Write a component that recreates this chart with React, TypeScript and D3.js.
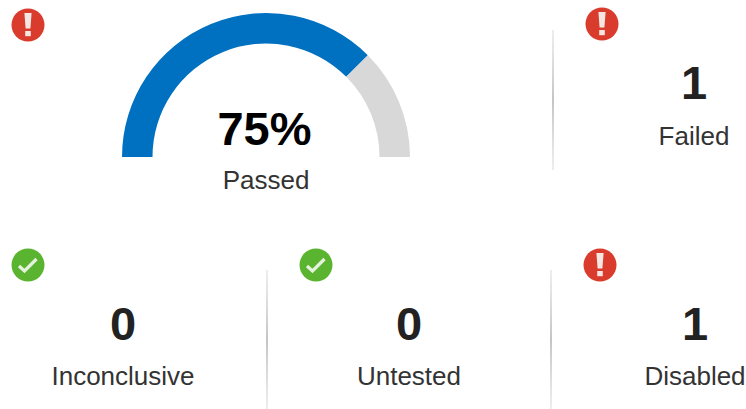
import React from "react";
import * as d3 from "d3";

const passedPercent = 75;
const gaugeColors = ["#0070c0", "#d8d8d8"];
const tileLabels = ["Failed", "Inconclusive", "Untested", "Disabled"];
const tileValues = [1, 0, 0, 1];
const tileX = [694, 123, 409, 695];
const tileNumberY = [99, 340, 340, 340];
const tileLabelY = [145, 385, 385, 385];
const iconKinds = ["error", "error", "ok", "ok", "error"];
const iconX = [28, 602, 28, 316, 600];
const iconY = [25, 24, 265, 265, 265];
const dividerX = [553, 267, 551];
const dividerY = [[30, 170], [270, 409], [270, 409]];

const FONT = '"Liberation Sans", Arial, sans-serif';

function Icon({ kind, x, y }: { kind: string; x: number; y: number }) {
  if (kind === "error") {
    return (
      <g transform={`translate(${x},${y})`}>
        <circle r={16.5} fill="#d93c2c" />
        <path d="M-3.6,-12 L3.6,-12 L2.4,3.5 L-2.4,3.5 Z" fill="#f4e6e2" />
        <rect x={-2.8} y={6} width={5.6} height={5.2} fill="#f4e6e2" />
      </g>
    );
  }
  return (
    <g transform={`translate(${x},${y})`}>
      <circle r={16.5} fill="#5ab42f" />
      <path d="M-9,1 L-3.5,6 L8.5,-6" fill="none" stroke="#e4f2dc" strokeWidth={3.2} />
    </g>
  );
}

export default function App() {
  const cx = 266;
  const cy = 157;
  const angle = d3.scaleLinear().domain([0, 100]).range([-Math.PI / 2, Math.PI / 2]);
  const arc = d3.arc<{ a: number; b: number }>()
    .innerRadius(113.5)
    .outerRadius(144)
    .startAngle((d) => d.a)
    .endAngle((d) => d.b);
  const segments = [
    { a: angle(0), b: angle(passedPercent) },
    { a: angle(passedPercent), b: angle(100) },
  ];
  return (
    <svg
      width={746}
      height={409}
      style={{ position: "absolute", left: 0, top: 0, background: "#fff" }}
      fontFamily={FONT}
    >
      <defs>
        <linearGradient id="div" x1="0" y1="0" x2="0" y2="1">
          <stop offset="0" stopColor="#d4d4d4" stopOpacity={0.4} />
          <stop offset="0.5" stopColor="#c4c4c4" />
          <stop offset="1" stopColor="#d4d4d4" stopOpacity={0.4} />
        </linearGradient>
      </defs>
      {segments.map((s, i) => (
        <path key={i} transform={`translate(${cx},${cy})`} d={arc(s) as string} fill={gaugeColors[i]} />
      ))}
      <text x={cx - 1.5} y={145} textAnchor="middle" fontSize={47} fontWeight={700} fill="#000">
        {passedPercent}%
      </text>
      <text x={cx} y={189} textAnchor="middle" fontSize={26} fill="#333">
        Passed
      </text>
      {tileLabels.map((l, i) => (
        <g key={l}>
          <text x={tileX[i]} y={tileNumberY[i]} textAnchor="middle" fontSize={47} fontWeight={700} fill="#222">
            {tileValues[i]}
          </text>
          <text x={tileX[i]} y={tileLabelY[i]} textAnchor="middle" fontSize={26} fill="#333">
            {l}
          </text>
        </g>
      ))}
      {dividerX.map((x, i) => (
        <rect key={i} x={x - 1} y={dividerY[i][0]} width={2} height={dividerY[i][1] - dividerY[i][0]} fill="url(#div)" />
      ))}
      {iconKinds.map((k, i) => (
        <Icon key={i} kind={k} x={iconX[i]} y={iconY[i]} />
      ))}
    </svg>
  );
}
